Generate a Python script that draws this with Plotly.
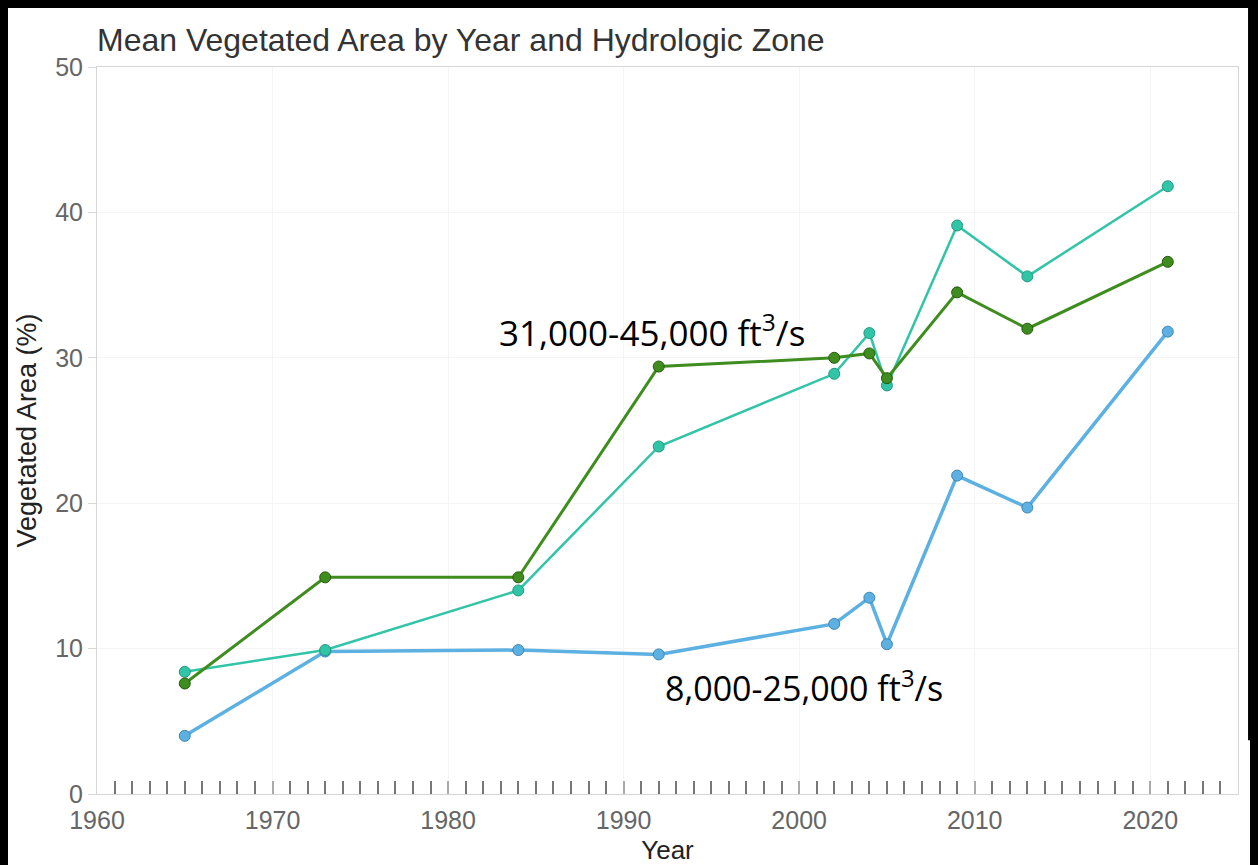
import plotly.graph_objects as go

# survey years
years = [1965, 1973, 1984, 1992, 2002, 2004, 2005, 2009, 2013, 2021]

# mean vegetated area (%) per hydrologic zone
low_flow = [4.0, 9.8, 9.9, 9.6, 11.7, 13.5, 10.3, 21.9, 19.7, 31.8]      # 8,000-25,000 ft3/s
mid_flow = [8.4, 9.9, 14.0, 23.9, 28.9, 31.7, 28.1, 39.1, 35.6, 41.8]    # teal zone
high_flow = [7.6, 14.9, 14.9, 29.4, 30.0, 30.3, 28.6, 34.5, 32.0, 36.6]  # 31,000-45,000 ft3/s

y_ticks = [0, 10, 20, 30, 40, 50]
x_ticks = [1960, 1970, 1980, 1990, 2000, 2010, 2020]

fig = go.Figure()

fig.add_trace(go.Scatter(x=years, y=low_flow, mode="lines+markers",
                         line=dict(color="#5cb0e2", width=3.5),
                         marker=dict(size=11, color="#5cb0e2",
                                     line=dict(color="#3d86b5", width=1))))
fig.add_trace(go.Scatter(x=years, y=mid_flow, mode="lines+markers",
                         line=dict(color="#32c4a6", width=2.5),
                         marker=dict(size=11, color="#32c4a6",
                                     line=dict(color="#1e9a80", width=1))))
fig.add_trace(go.Scatter(x=years, y=high_flow, mode="lines+markers",
                         line=dict(color="#3f8c1f", width=3),
                         marker=dict(size=11, color="#3f8c1f",
                                     line=dict(color="#255a10", width=1))))

fig.add_annotation(x=1991.6, y=31.9, text="31,000-45,000 ft<sup>3</sup>/s",
                   showarrow=False, font=dict(family="Open Sans", size=35, color="black"))
fig.add_annotation(x=2000.3, y=7.4, text="8,000-25,000 ft<sup>3</sup>/s",
                   showarrow=False, font=dict(family="Open Sans", size=34, color="black"))

# black screenshot edge on the right
fig.add_shape(type="rect", xref="paper", yref="paper", layer="below",
              x0=1.0088, x1=1.1, y0=0.074, y1=1.2,
              fillcolor="black", line=dict(width=0))

fig.update_layout(
    width=1250, height=857,
    margin=dict(l=89, r=20, t=59, b=71),
    paper_bgcolor="white",
    plot_bgcolor="white",
    showlegend=False,
    font=dict(family="Liberation Sans", color="#666666"),
    title=dict(text="Mean Vegetated Area by Year and Hydrologic Zone",
               x=89 / 1250, xanchor="left", y=1 - 32 / 857, yanchor="middle",
               font=dict(size=32, color="#333333")),
)

fig.update_xaxes(
    range=[1960, 2025], tickvals=x_ticks, automargin=False,
    ticks="inside", ticklen=13, tickwidth=2, tickcolor="#aaaaaa",
    minor=dict(dtick=1, ticks="inside", ticklen=13, tickwidth=2, tickcolor="#777777",
               showgrid=False),
    showgrid=True, gridcolor="#f5f5f5",
    showline=True, linecolor="#d6d6d6", mirror=True, zeroline=False,
    tickfont=dict(size=25, color="#666666"), ticklabelstandoff=4,
    title=dict(text="Year", font=dict(size=26, color="#222222"), standoff=9),
)
fig.update_yaxes(
    range=[0, 50], tickvals=y_ticks, automargin=False,
    ticks="outside", ticklen=8, tickcolor="#d6d6d6",
    showgrid=True, gridcolor="#f5f5f5",
    showline=True, linecolor="#d6d6d6", mirror=True, zeroline=False,
    tickfont=dict(size=25, color="#666666"),
    title=dict(text="Vegetated Area (%)", font=dict(size=27, color="#222222"), standoff=10),
)

fig.write_html("out.html", post_script="document.body.style.backgroundColor='black';")
